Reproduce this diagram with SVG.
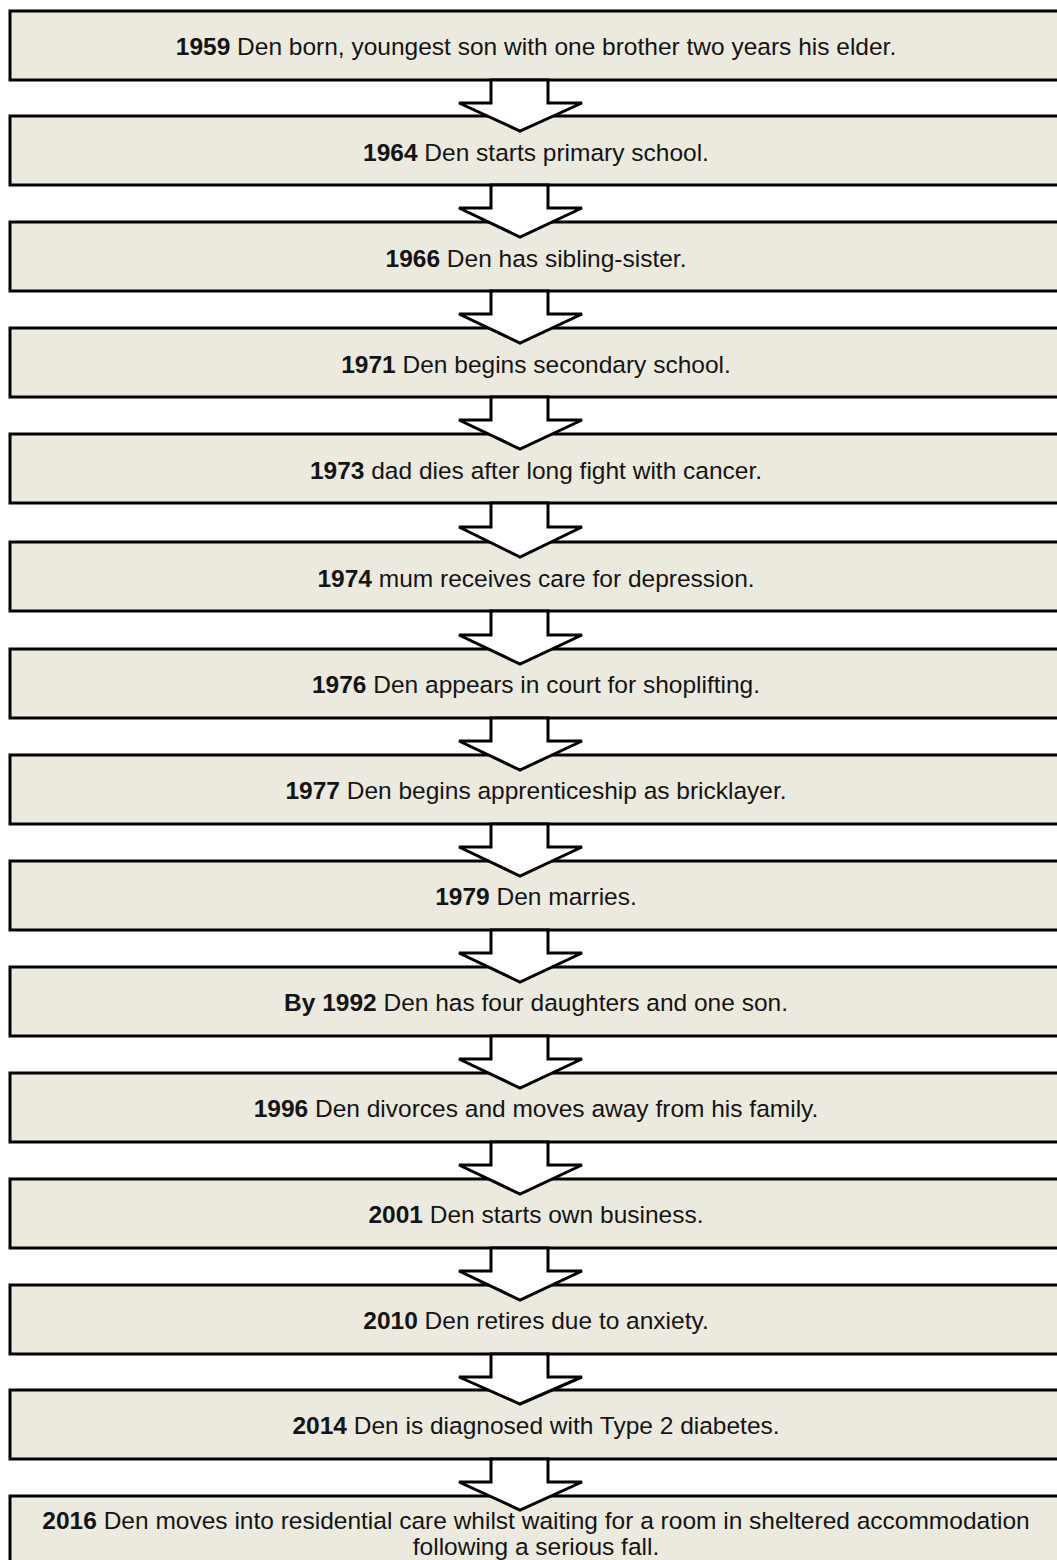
<svg xmlns="http://www.w3.org/2000/svg" width="1057" height="1560" viewBox="0 0 1057 1560">
<style>
.box{fill:#ECE9DF;stroke:#000;stroke-width:3}
.arr{fill:#fff;stroke:#000;stroke-width:3;stroke-linejoin:miter}
text{font-family:"Liberation Sans",Arial,sans-serif;font-size:24.5px;fill:#141414;text-anchor:middle}
.y{font-weight:bold}
</style>
<rect width="1057" height="1560" fill="#fff"/>
<g id="n1959"><rect class="box" x="10" y="11" width="1054" height="69"/><text x="536" y="55"><tspan class="y">1959</tspan> Den born, youngest son with one brother two years his elder.</text></g>
<g id="n1964"><rect class="box" x="10" y="116" width="1054" height="69"/><text x="536" y="161"><tspan class="y">1964</tspan> Den starts primary school.</text></g>
<g id="n1966"><rect class="box" x="10" y="222" width="1054" height="69"/><text x="536" y="267"><tspan class="y">1966</tspan> Den has sibling-sister.</text></g>
<g id="n1971"><rect class="box" x="10" y="328" width="1054" height="69"/><text x="536" y="373"><tspan class="y">1971</tspan> Den begins secondary school.</text></g>
<g id="n1973"><rect class="box" x="10" y="434" width="1054" height="69"/><text x="536" y="479"><tspan class="y">1973</tspan> dad dies after long fight with cancer.</text></g>
<g id="n1974"><rect class="box" x="10" y="542" width="1054" height="69"/><text x="536" y="587"><tspan class="y">1974</tspan> mum receives care for depression.</text></g>
<g id="n1976"><rect class="box" x="10" y="649" width="1054" height="69"/><text x="536" y="693"><tspan class="y">1976</tspan> Den appears in court for shoplifting.</text></g>
<g id="n1977"><rect class="box" x="10" y="755" width="1054" height="69"/><text x="536" y="799"><tspan class="y">1977</tspan> Den begins apprenticeship as bricklayer.</text></g>
<g id="n1979"><rect class="box" x="10" y="861" width="1054" height="69"/><text x="536" y="905"><tspan class="y">1979</tspan> Den marries.</text></g>
<g id="n1992"><rect class="box" x="10" y="967" width="1054" height="69"/><text x="536" y="1011"><tspan class="y">By 1992</tspan> Den has four daughters and one son.</text></g>
<g id="n1996"><rect class="box" x="10" y="1073" width="1054" height="69"/><text x="536" y="1117"><tspan class="y">1996</tspan> Den divorces and moves away from his family.</text></g>
<g id="n2001"><rect class="box" x="10" y="1179" width="1054" height="69"/><text x="536" y="1223"><tspan class="y">2001</tspan> Den starts own business.</text></g>
<g id="n2010"><rect class="box" x="10" y="1285" width="1054" height="69"/><text x="536" y="1329"><tspan class="y">2010</tspan> Den retires due to anxiety.</text></g>
<g id="n2014"><rect class="box" x="10" y="1390" width="1054" height="69"/><text x="536" y="1434"><tspan class="y">2014</tspan> Den is diagnosed with Type 2 diabetes.</text></g>
<g id="n2016"><rect class="box" x="10" y="1496" width="1054" height="90"/><text x="536" y="1529"><tspan class="y">2016</tspan> Den moves into residential care whilst waiting for a room in sheltered accommodation</text><text x="536" y="1555">following a serious fall.</text></g>
<g id="connectors">
<polygon class="arr" points="491,80 548,80 548,103 582,103 520,131 459,103 491,103"/>
<polygon class="arr" points="491,185 548,185 548,208 582,208 520,237 459,208 491,208"/>
<polygon class="arr" points="491,291 548,291 548,314 582,314 520,343 459,314 491,314"/>
<polygon class="arr" points="491,397 548,397 548,420 582,420 520,449 459,420 491,420"/>
<polygon class="arr" points="491,503 548,503 548,527 582,527 520,557 459,527 491,527"/>
<polygon class="arr" points="491,611 548,611 548,635 582,635 520,664 459,635 491,635"/>
<polygon class="arr" points="491,718 548,718 548,741 582,741 520,770 459,741 491,741"/>
<polygon class="arr" points="491,824 548,824 548,847 582,847 520,876 459,847 491,847"/>
<polygon class="arr" points="491,930 548,930 548,953 582,953 520,982 459,953 491,953"/>
<polygon class="arr" points="491,1036 548,1036 548,1059 582,1059 520,1088 459,1059 491,1059"/>
<polygon class="arr" points="491,1142 548,1142 548,1165 582,1165 520,1194 459,1165 491,1165"/>
<polygon class="arr" points="491,1248 548,1248 548,1271 582,1271 520,1300 459,1271 491,1271"/>
<polygon class="arr" points="491,1354 548,1354 548,1377 582,1377 520,1404 459,1377 491,1377"/>
<polygon class="arr" points="491,1459 548,1459 548,1482 582,1482 520,1510 459,1482 491,1482"/>
</g>
</svg>
